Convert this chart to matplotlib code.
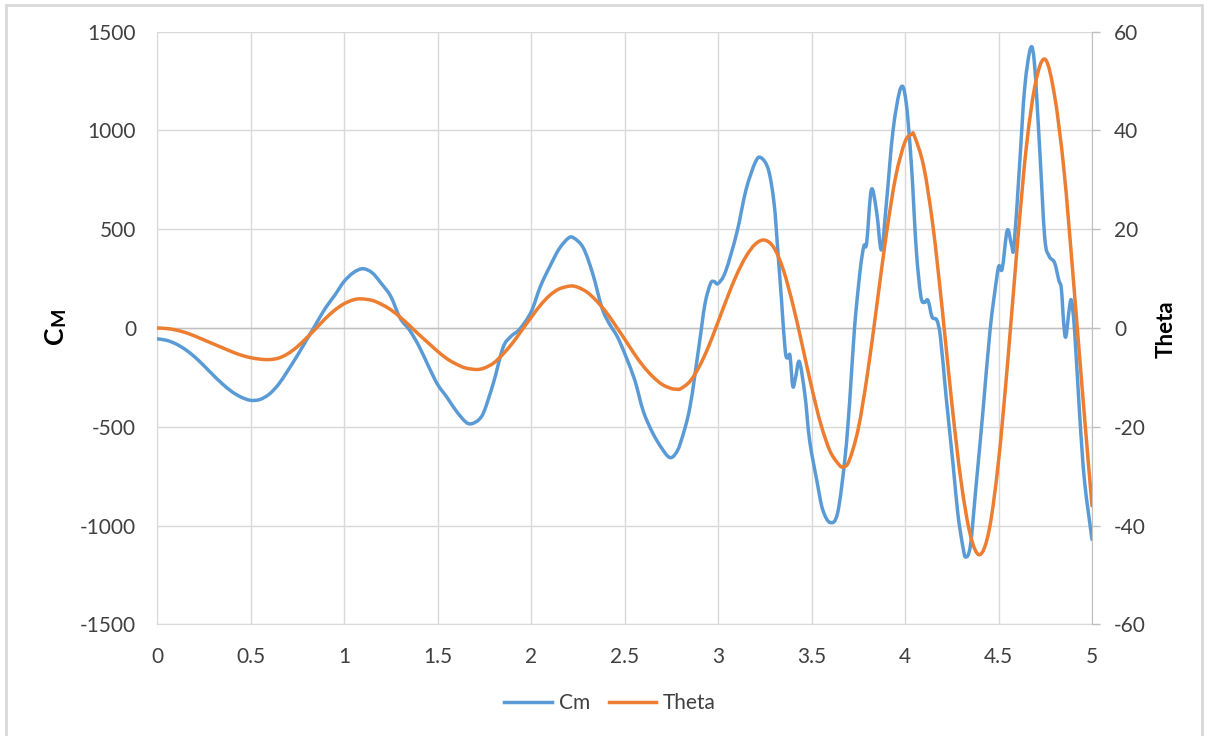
import numpy as np
import matplotlib.pyplot as plt
from matplotlib.path import Path
from matplotlib.patches import PathPatch, Rectangle
from matplotlib.lines import Line2D

plt.rcParams['font.family'] = ['Lato', 'DejaVu Sans']

# Cm (left axis)
cm_x = [0.0, 0.05, 0.1, 0.15, 0.2, 0.25, 0.3, 0.35, 0.4, 0.45, 0.5, 0.55, 0.6, 0.65,
        0.7, 0.75, 0.8, 0.85, 0.9, 0.95, 1.0, 1.05, 1.1, 1.15, 1.2, 1.25, 1.3, 1.35,
        1.4, 1.45, 1.5, 1.55, 1.6, 1.65, 1.68, 1.72, 1.75, 1.8, 1.85, 1.89, 1.94, 2.0,
        2.05, 2.1, 2.15, 2.2, 2.23, 2.28, 2.33, 2.38, 2.42, 2.47, 2.55, 2.6, 2.65, 2.7,
        2.74, 2.77, 2.8, 2.85, 2.9, 2.93, 2.96, 2.98, 3.0, 3.04, 3.1, 3.15, 3.2, 3.23,
        3.27, 3.3, 3.32, 3.34, 3.36, 3.375, 3.385, 3.4, 3.415, 3.435, 3.465, 3.49, 3.53,
        3.56, 3.6, 3.64, 3.68, 3.705, 3.73, 3.76, 3.78, 3.795, 3.82, 3.848, 3.874, 3.9,
        3.936, 3.977, 4.005, 4.034, 4.06, 4.085, 4.105, 4.123, 4.145, 4.17, 4.19, 4.22,
        4.257, 4.283, 4.31, 4.325, 4.35, 4.38, 4.417, 4.455, 4.49, 4.503, 4.52, 4.547,
        4.57, 4.583, 4.613, 4.64, 4.672, 4.693, 4.72, 4.747, 4.77, 4.8, 4.823, 4.836,
        4.849, 4.86, 4.877, 4.89, 4.907, 4.934, 4.96, 5.0]
cm = [-55, -62, -80, -108, -145, -190, -238, -283, -322, -350, -366, -362, -335, -285,
      -215, -140, -60, 20, 100, 165, 235, 280, 300, 280, 225, 160, 50, -10,
      -90, -190, -285, -350, -420, -475, -485, -465, -420, -275, -100, -45, -5, 80,
      210, 310, 400, 455, 455, 405, 275, 100, 20, -60, -250, -420, -530, -610,
      -655, -640, -580, -400, -80, 120, 225, 235, 225, 285, 480, 700, 840, 862,
      800, 630, 390, 137, -120, -150, -140, -295, -250, -170, -340, -570, -780,
      -920, -985, -935, -650, -360, 0, 290, 415, 430, 700, 590, 395, 626,
      1000, 1215, 1150, 830, 400, 160, 130, 140, 55, 40, -50, -350,
      -690, -943, -1110, -1160, -1100, -800, -420, -10, 250, 315, 300, 495,
      420, 415, 830, 1215, 1418, 1330, 910, 460, 365, 330, 240, 200,
      20, -45, 85, 140, -15, -440, -775, -1070]

# Theta (right axis)
theta_x = [0.0, 0.05, 0.1, 0.15, 0.2, 0.25, 0.3, 0.35, 0.4, 0.45, 0.5, 0.55, 0.6, 0.65,
           0.7, 0.75, 0.8, 0.85, 0.9, 0.95, 1.0, 1.05, 1.09, 1.15, 1.2, 1.25, 1.3, 1.35,
           1.4, 1.45, 1.5, 1.55, 1.6, 1.65, 1.71, 1.75, 1.8, 1.85, 1.9, 1.95, 2.0, 2.05,
           2.1, 2.15, 2.21, 2.25, 2.3, 2.35, 2.4, 2.45, 2.5, 2.55, 2.6, 2.65, 2.7, 2.75,
           2.78, 2.8, 2.85, 2.9, 2.95, 3.0, 3.05, 3.1, 3.15, 3.2, 3.25, 3.3, 3.35, 3.4,
           3.45, 3.5, 3.55, 3.6, 3.65, 3.67, 3.7, 3.75, 3.8, 3.85, 3.9, 3.95, 4.0, 4.035,
           4.05, 4.1, 4.15, 4.2, 4.25, 4.3, 4.35, 4.4, 4.45, 4.5, 4.55, 4.6, 4.65, 4.7,
           4.75, 4.8, 4.85, 4.9, 4.95, 5.0]
theta = [0, -0.1, -0.4, -0.9, -1.6, -2.4, -3.2, -4.0, -4.8, -5.5, -6.0, -6.3, -6.4, -6.1,
         -5.2, -3.8, -2.0, -0.1, 1.9, 3.6, 4.9, 5.7, 5.9, 5.6, 4.8, 3.7, 2.2, 0.5,
         -1.3, -3.0, -4.7, -6.2, -7.3, -8.1, -8.4, -8.1, -7.1, -5.3, -3.1, -0.5, 2.1, 4.6,
         6.6, 7.9, 8.5, 8.25, 7.25, 5.5, 3.3, 0.6, -2.2, -5.1, -7.7, -9.8, -11.4, -12.25,
         -12.4, -12.3, -10.8, -7.8, -3.7, 1.2, 6.2, 10.8, 14.5, 17.0, 17.8, 16.2, 11.7, 4.8,
         -3.4, -11.9, -19.5, -25.0, -27.8, -28.1, -27.0, -20.4, -9.1, 4.8, 18.9, 30.6, 37.7, 39.2,
         38.9, 32.7, 20.5, 3.5, -15.1, -31.1, -42.0, -45.9, -40.9, -27.0, -6.5, 16.5, 37.0, 50.0,
         54.4, 47.0, 32.0, 10.0, -13.5, -36.0]

x_ticks = [0, 0.5, 1, 1.5, 2, 2.5, 3, 3.5, 4, 4.5, 5]
x_labels = ['0', '0.5', '1', '1.5', '2', '2.5', '3', '3.5', '4', '4.5', '5']
y_ticks = [-1500, -1000, -500, 0, 500, 1000, 1500]
y_labels = ['-1500', '-1000', '-500', '0', '500', '1000', '1500']
y2_ticks = [-60, -40, -20, 0, 20, 40, 60]
y2_labels = ['-60', '-40', '-20', '0', '20', '40', '60']

blue = '#5B9BD5'
orange = '#ED7D31'
txt = '#404040'


def smooth_path(xs, ys):
    # smoothed line like the spreadsheet one (Catmull-Rom as Bezier)
    p = np.column_stack([xs, ys]).astype(float)
    ext = np.vstack([p[0], p, p[-1]])
    verts = [p[0]]
    codes = [Path.MOVETO]
    for i in range(len(p) - 1):
        p0, p1, p2, p3 = ext[i], ext[i + 1], ext[i + 2], ext[i + 3]
        verts += [p1 + (p2 - p0) / 6, p2 - (p3 - p1) / 6, p2]
        codes += [Path.CURVE4] * 3
    return Path(verts, codes)


fig = plt.figure(figsize=(12.07, 7.36), dpi=100)
ax = fig.add_axes([157 / 1207, 1 - 624.3 / 736, (1092 - 157) / 1207, (624.3 - 31.7) / 736])
ax2 = ax.twinx()

ax.set_xlim(0, 5)
ax.set_ylim(-1500, 1500)
ax2.set_ylim(-60, 60)

ax.set_xticks(x_ticks, x_labels)
ax.set_yticks(y_ticks, y_labels)
ax2.set_yticks(y2_ticks, y2_labels)

ax.grid(True, color='#d9d9d9', lw=1)
ax.set_axisbelow(True)
ax.axhline(0, color='#bfbfbf', lw=1, zorder=1)

for s in ['top', 'right']:
    ax.spines[s].set_visible(False)
for s in ['left', 'bottom']:
    ax.spines[s].set_color('#d9d9d9')
for s in ['top', 'left', 'bottom']:
    ax2.spines[s].set_visible(False)
ax2.spines['right'].set_color('#bfbfbf')

ax.tick_params(axis='y', length=0, pad=15, labelsize=15, labelcolor=txt)
ax.tick_params(axis='x', length=0, pad=16, labelsize=15, labelcolor=txt)
ax2.tick_params(axis='y', length=6, width=1, color='#bfbfbf', pad=10, labelsize=15, labelcolor=txt)

ax.add_patch(PathPatch(smooth_path(cm_x, cm), facecolor='none', edgecolor=blue,
                       lw=2.5, capstyle='round', joinstyle='round', zorder=3))
ax2.add_patch(PathPatch(smooth_path(theta_x, theta), facecolor='none', edgecolor=orange,
                        lw=2.5, capstyle='round', joinstyle='round', zorder=3))

# axis titles
fig.text(67 / 1207, 1 - 335 / 736, 'C', rotation=90, fontsize=19, fontweight='bold',
         ha='right', va='center')
fig.text(67 / 1207, 1 - 317 / 736, 'M', rotation=90, fontsize=14, fontweight='bold',
         ha='right', va='center')
fig.text(1177 / 1207, 1 - 329 / 736, 'Theta', rotation=90, fontsize=16, fontweight='bold',
         ha='right', va='center')

handles = [Line2D([], [], color=blue, lw=2.5), Line2D([], [], color=orange, lw=2.5)]
fig.legend(handles, ['Cm', 'Theta'], loc='center', bbox_to_anchor=(610 / 1207, 1 - 703 / 736),
           ncol=2, frameon=False, fontsize=15, handlelength=2.3, handletextpad=0.3,
           columnspacing=0.9, labelcolor=txt)

fig.patches.append(Rectangle((6 / 1207, -0.05), (1202 - 6) / 1207, 1.05 - 5 / 736,
                             transform=fig.transFigure, fill=False, edgecolor='#d9d9d9', lw=2))

fig.savefig('out.png', dpi=100)
